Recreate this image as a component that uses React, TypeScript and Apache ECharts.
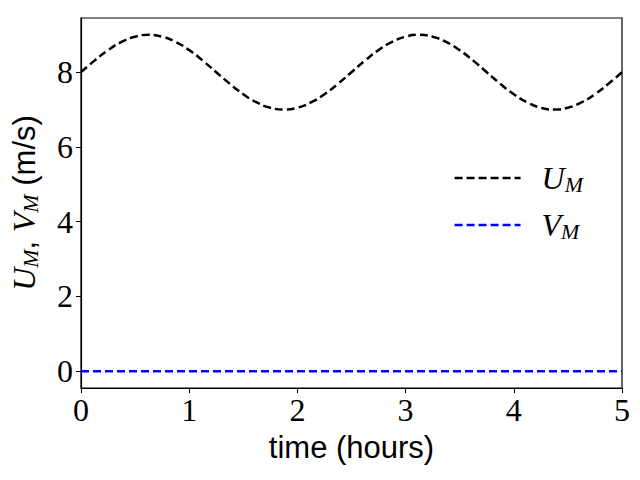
import React, { useEffect, useRef } from "react";
import * as echarts from "echarts";

const timeHours = [
  0, 0.125, 0.25, 0.375, 0.5, 0.625, 0.75, 0.875, 1, 1.125, 1.25, 1.375, 1.5, 1.625, 1.75, 1.875, 2,
  2.125, 2.25, 2.375, 2.5, 2.625, 2.75, 2.875, 3, 3.125, 3.25, 3.375, 3.5, 3.625, 3.75, 3.875, 4,
  4.125, 4.25, 4.375, 4.5, 4.625, 4.75, 4.875, 5,
];
const uM = [
  8.0, 8.31, 8.59, 8.81, 8.95, 9.0, 8.95, 8.81, 8.59, 8.31, 8.0, 7.69, 7.41, 7.19, 7.05, 7.0, 7.05,
  7.19, 7.41, 7.69, 8.0, 8.31, 8.59, 8.81, 8.95, 9.0, 8.95, 8.81, 8.59, 8.31, 8.0, 7.69, 7.41,
  7.19, 7.05, 7.0, 7.05, 7.19, 7.41, 7.69, 8.0,
];
const vTime = [0, 1, 2, 3, 4, 5];
const vM = [0, 0, 0, 0, 0, 0];
const yTicks = [0, 2, 4, 6, 8];

const serif = "'Liberation Serif', 'DejaVu Serif', serif";
const sans = "'Liberation Sans', 'DejaVu Sans', sans-serif";

export default function App() {
  const ref = useRef<HTMLDivElement>(null);
  useEffect(() => {
    if (!ref.current) return;
    const chart = echarts.init(ref.current, null, { renderer: "svg" });
    const rich = {
      i: { fontFamily: serif, fontStyle: "italic", fontSize: 32, color: "#000" },
      s: { fontFamily: serif, fontStyle: "italic", fontSize: 22, color: "#000", padding: [12, 0, 0, 0] },
      n: { fontFamily: sans, fontSize: 31, color: "#000" },
    };
    chart.setOption({
      animation: false,
      grid: { left: 76, right: 18, top: 18, bottom: 92, show: true, borderColor: "#000", borderWidth: 1.2 },
      legend: {
        right: 52,
        top: 157,
        orient: "vertical",
        itemWidth: 66,
        itemHeight: 14,
        itemGap: 14,
        itemStyle: { opacity: 0 },
        lineStyle: { width: 2.5 },
        formatter: (name: string) => (name === "U_M" ? "{i|U}{s|M}" : "{i|V}{s|M}"),
        textStyle: { rich, padding: [0, 0, 0, 16] },
      },
      xAxis: {
        type: "value",
        min: 0,
        max: 5,
        interval: 1,
        name: "time (hours)",
        nameLocation: "middle",
        nameGap: 44,
        nameTextStyle: { fontFamily: sans, fontSize: 31, color: "#000", verticalAlign: "top" },
        splitLine: { show: false },
        axisLine: { onZero: false, lineStyle: { color: "#000", width: 1.2 } },
        axisTick: { length: 5, lineStyle: { color: "#000" } },
        axisLabel: { fontFamily: serif, fontSize: 32, color: "#000", margin: 6 },
      },
      yAxis: {
        type: "value",
        min: -0.45,
        max: 9.45,
        name: "{i|U}{s|M}{n|, }{i|V}{s|M}{n| (m/s)}",
        nameLocation: "middle",
        nameGap: 40,
        nameRotate: 90,
        nameTextStyle: { rich },
        splitLine: { show: false },
        axisLine: { onZero: false, lineStyle: { color: "#000", width: 1.2 } },
        axisTick: { length: 5, lineStyle: { color: "#000" }, customValues: yTicks },
        axisLabel: { fontFamily: serif, fontSize: 32, color: "#000", margin: 8, customValues: yTicks },
      },
      series: [
        {
          name: "U_M",
          type: "line",
          smooth: true,
          symbol: "none",
          data: timeHours.map((t, k) => [t, uM[k]]),
          lineStyle: { color: "#000", width: 2.5, type: [8, 4] },
          itemStyle: { color: "#000" },
        },
        {
          name: "V_M",
          type: "line",
          symbol: "none",
          data: vTime.map((t, k) => [t, vM[k]]),
          lineStyle: { color: "#0000ff", width: 2.5, type: [8, 4] },
          itemStyle: { color: "#0000ff" },
        },
      ],
    });
    return () => chart.dispose();
  }, []);
  return <div ref={ref} style={{ width: 640, height: 480, position: "absolute", left: 0, top: 0 }} />;
}
